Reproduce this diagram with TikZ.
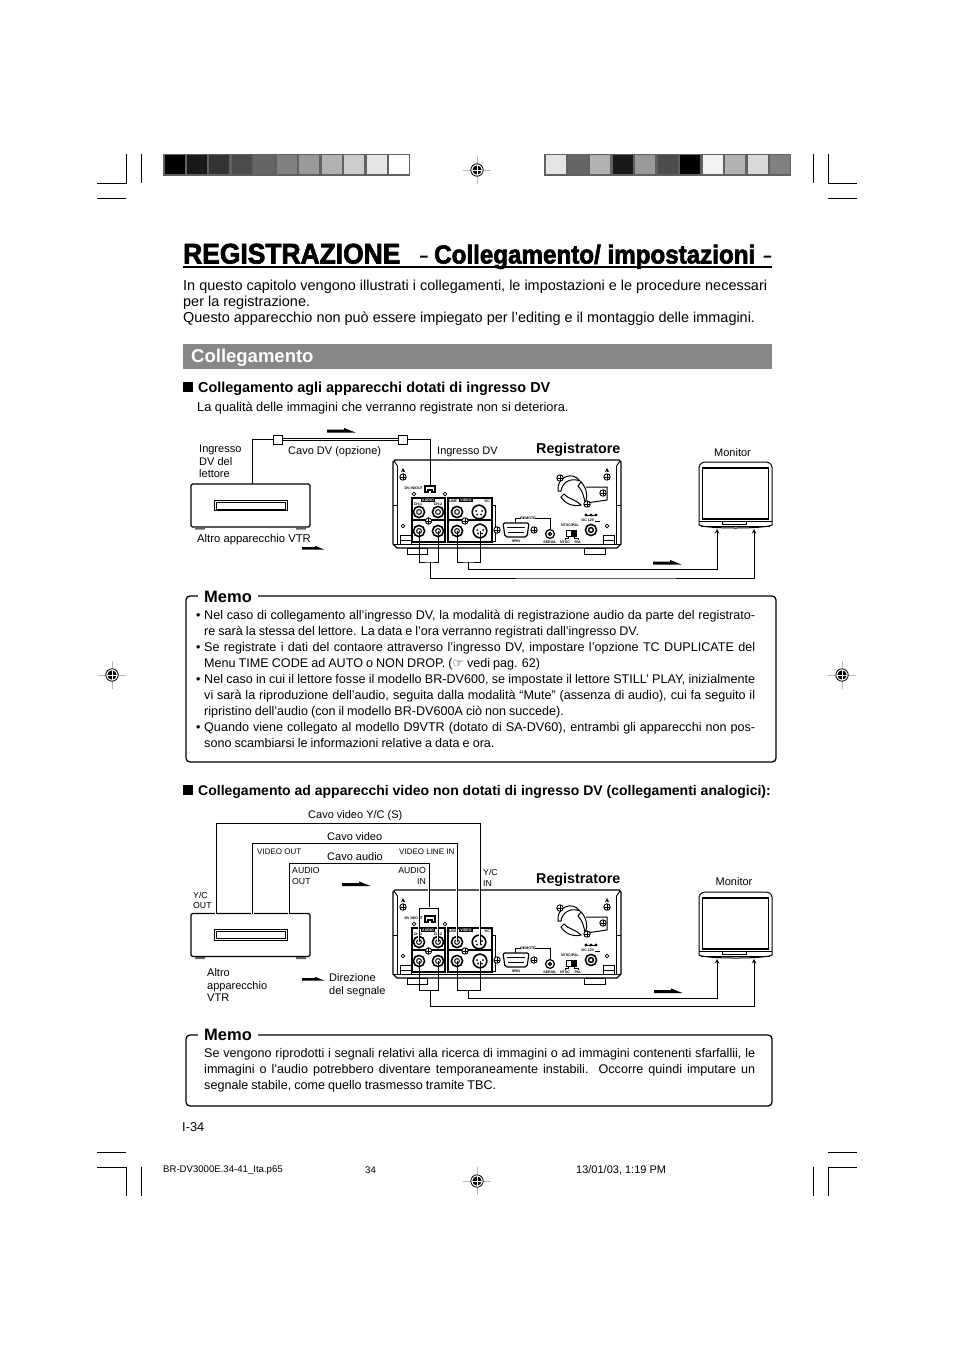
\documentclass[tikz,border=0pt]{standalone}
\usepackage{fontspec}
\setmainfont{Liberation Sans}
\newfontfamily\symfont{DejaVu Sans}
\newfontfamily\heavyfont{Liberation Sans}[UprightFont={* Bold},FakeBold=2.4,FakeStretch=0.93]
\usetikzlibrary{positioning,calc,arrows.meta}
\definecolor{cbar}{gray}{0.53}
\definecolor{cmark}{gray}{0.72}
\definecolor{cframe}{gray}{0.38}
\newcommand{\fsize}[1]{\fontsize{#1}{#1}\selectfont}
\newcommand{\jack}[2]{\draw[line width=1.6pt,fill=white] (#1,#2) circle (5.6); \draw[line width=1pt] (#1,#2) circle (2.4);}
\newcommand{\svideo}[2]{\draw[line width=1.6pt,fill=white] (#1,#2) circle (6.8); \fill (#1-3,#2-1) circle (1) (#1+3,#2-1) circle (1) (#1-2,#2+2.5) circle (1) (#1+2,#2+2.5) circle (1);}
\newcommand{\screw}[2]{\draw[line width=.9pt,fill=white] (#1,#2) circle (3.2); \draw[line width=.9pt] (#1-3.2,#2) -- (#1+3.2,#2) (#1,#2-3.2) -- (#1,#2+3.2);}
\newcommand{\bull}{\leavevmode\llap{\makebox[8pt][l]{•}}}
\tikzset{
  lbl/.style={inner sep=0pt,anchor=west,align=left,font=\fsize{11}},
  tiny/.style={inner sep=0pt,font=\fsize{3.6}\bfseries},
  cable/.style={line width=1pt},
  halo/.style={preaction={draw=white,line width=2.6pt}},
  plug/.style={draw,line width=1pt,fill=white,minimum size=9pt,inner sep=0pt},
  vtrbox/.style={draw,line width=1.2pt,rounded corners=1.5pt,minimum width=119pt,minimum height=43pt,inner sep=0pt},
  slotbox/.style={draw,line width=1pt,minimum width=73pt,minimum height=10.5pt,inner sep=0pt,
    path picture={\draw[line width=.7pt] ([shift={(2,1.8)}]path picture bounding box.north west) rectangle ([shift={(-2,-1.8)}]path picture bounding box.south east);}},
  memobox/.style={draw,line width=1.3pt,rounded corners=4pt,inner sep=0pt},
  memotag/.style={fill=white,inner xsep=6pt,inner ysep=0pt,anchor=west,font=\fsize{16.5}\bfseries},
  memotext/.style={inner sep=0pt,anchor=north west,text width=551pt,align=justify},
  heading/.style={inner sep=0pt,anchor=west,font=\fsize{14}\bfseries},
  sigarrow/.pic={\fill (0,0) -- (17,0) -- (17,-1.6) -- (28.5,3) -- (0,3) -- cycle;},
  sigsmall/.pic={\fill (0,0) -- (13,0) -- (13,-1.2) -- (22.5,2.6) -- (0,2.6) -- cycle;},
  regmark/.pic={
    \draw[cmark,line width=.7pt] (-14,0) -- (14,0) (0,-14) -- (0,14);
    \draw[line width=.8pt,fill=white] (0,0) circle (6.2);
    \fill (0,0) circle (4.6);
    \draw[white,line width=.7pt] (-4.6,0) -- (4.6,0) (0,-4.6) -- (0,4.6);
  },
  monitor/.pic={
    \draw[line width=1pt,fill=white] (699,467) .. controls (700,463) and (703,462) .. (707,462) -- (764,462)
      .. controls (769,462) and (771,463) .. (772,467) -- (772,525) .. controls (766,529) and (705,529) .. (699,525) -- cycle;
    \draw[line width=1.8pt] (702.5,468) rectangle (768.5,519);
    \draw[line width=.7pt] (699,521) -- (772,521) (701,526) -- (770,526);
    \draw[line width=.7pt] (722,521) -- (722,524) -- (746,524) -- (746,521);
    \coordinate (-inl) at (717,529);
    \coordinate (-inr) at (754,529);
  },
  recorder/.pic={
    % body and feet
    \draw[line width=1pt,fill=white] (407,548) rectangle (427,554) (584,548) rectangle (605,554);
    \draw[line width=1.3pt,fill=white] (395,460) -- (619,460) -- (621,462) -- (621,544) -- (617,548) -- (397,548) -- (393,544) -- (393,462) -- cycle;
    \draw[line width=.9pt] (394,461) -- (397.5,466) -- (397.5,544.5) (620,461) -- (616.5,466) -- (616.5,544.5);
    \draw[line width=1.8pt] (394,544.5) -- (620,544.5);
    \draw[line width=.7pt] (393,505) -- (397,505) (617,505) -- (621,505);
    % side screws
    \draw[line width=.9pt,<-,>=stealth] (403,468) -- (403,472);
    \draw[line width=.9pt,<-,>=stealth] (607,468) -- (607,472);
    \screw{403}{477} \screw{607}{477}
    \draw[line width=.7pt] (403,526) circle (1.8) (607,526) circle (1.8);
    \draw[line width=.7pt] (400,535) rectangle (411,540) (400,540) rectangle (411,544.5);
    \draw[line width=.7pt] (603,535) rectangle (614,540) (603,540) rectangle (614,544.5);
    % fan
    \draw[line width=1pt] (558,491) .. controls (556,478) and (572,470) .. (580,481) .. controls (570,477) and (562,483) .. (561,491) -- cycle;
    \draw[line width=1pt] (561,497) .. controls (565,504) and (574,507) .. (581,505) .. controls (577,500) and (568,499) .. (564,494) -- cycle;
    \draw[line width=1pt] (581,482) .. controls (587,488) and (588,497) .. (585,503) .. controls (584,496) and (582,490) .. (578,486) -- cycle;
    \draw[line width=1pt] (586,487) -- (607,487) -- (607,500) -- (586,503);
    \screw{560}{478} \screw{587}{504} \screw{603}{493}
    % DV socket
    \node[tiny,anchor=east] (dvlbl) at (423,488.5) {DV IN/OUT};
    \draw[line width=1.3pt,fill=white] (425,492) -- (425,486) -- (435,486) -- (435,492) -- (432,492) -- (432,490) -- (428,490) -- (428,492) -- cycle;
    \coordinate (-dv) at (430,486);
    \draw[line width=.7pt] (414,494) circle (1.8) (445,494) circle (1.8);
    % jack panels
    \draw[line width=1.2pt] (412,498) rectangle (445,542) (412,520) -- (445,520);
    \draw[line width=1.2pt] (448,498) rectangle (492,542) (448,520) -- (492,520);
    \draw[line width=1pt] (492,505) -- (495,505) -- (495,541) -- (492,541);
    \node[tiny,fill=black,text=white,inner xsep=1pt,inner ysep=.3pt] (audlbl) at (428,500) {AUDIO};
    \node[tiny,fill=black,text=white,inner xsep=1pt,inner ysep=.3pt] (vidlbl) at (466,500) {VIDEO};
    \node[tiny] (chalbl) at (418,504) {CH-1};
    \node[tiny] (chblbl) at (438,504) {CH-2};
    \node[tiny] (linelbl) at (453,501) {LINE};
    \node[tiny] (yclbl) at (487,501) {Y/C};
    \jack{419}{512} \jack{438}{512} \jack{457}{512}
    \jack{419}{531} \jack{438}{531} \jack{457}{531}
    \svideo{479}{512} \svideo{480}{531}
    \screw{428.5}{521} \screw{465}{521}
    \coordinate (-la) at (419,512); \coordinate (-ra) at (438,512); \coordinate (-va) at (457,512); \coordinate (-sa) at (480,514);
    \coordinate (-lb) at (419,531); \coordinate (-rb) at (438,531); \coordinate (-vb) at (457,531); \coordinate (-sb) at (480,531);
    % remote connectors
    \node[tiny] (rmlbl) at (528,518) {REMOTE};
    \draw[line width=.6pt] (515,523) -- (515,518) -- (521,518) (535,518) -- (550,518) -- (550,529);
    \draw[line width=1.2pt,fill=white,rounded corners=2pt] (503,523) -- (529,523) -- (527,537) -- (505,537) -- cycle;
    \draw[line width=.7pt] (507,527) -- (525,527) (508,532) -- (524,532);
    \screw{497}{530} \screw{534}{530}
    \node[tiny] (pinlbl) at (516,541) {9PIN};
    \draw[line width=1.2pt,fill=white] (550,534) circle (4.4) (550,534) circle (1.6);
    \node[tiny] (serlbl) at (550,542.5) {SERIAL};
    % system switch
    \node[tiny] (syslbl) at (570,525) {NTSC/PAL};
    \draw[line width=.9pt] (566,530) rectangle (576,536);
    \fill (571,530) rectangle (576,536);
    \draw[line width=.5pt] (568,536) -- (568,538.5) -- (565,538.5) -- (565,540) (574,536) -- (574,538.5) -- (578,538.5) -- (578,540);
    \node[tiny] (ntsclbl) at (565,542.5) {NTSC};
    \node[tiny] (pallbl) at (578,542.5) {PAL};
    % power input
    \fill (586,515) circle (1.7) (591,515) circle (1.7) (596,515) circle (1.7);
    \draw[line width=.5pt] (586,515) -- (596,515);
    \node[tiny] (dclbl) at (591,520.5) {DC 12V \rule{5pt}{.7pt}};
    \draw[line width=1.5pt,fill=white] (591,530) circle (5.6) (591,530) circle (2.4);
  }
}
\begin{document}
\begin{tikzpicture}[x=1pt,y=-1pt,>=stealth]
    \useasboundingbox[fill=white] (0,0) rectangle (954,1351);
    % crop marks
    \draw[line width=.7pt] (97,183) -- (126,183) -- (126,154) (97,198) -- (126,198) (141.5,154) -- (141.5,183);
    \draw[line width=.7pt] (857,183) -- (828,183) -- (828,154) (857,198) -- (828,198) (813.5,154) -- (813.5,183);
    \draw[line width=.7pt] (97,1152.5) -- (126,1152.5) (97,1167) -- (126,1167) -- (126,1196) (141.5,1167) -- (141.5,1196);
    \draw[line width=.7pt] (857,1152.5) -- (828,1152.5) (857,1167) -- (828,1167) -- (828,1196) (813.5,1167) -- (813.5,1196);
    \pic at (477,170) {regmark};
    \pic at (477,1181) {regmark};
    \pic at (112,675) {regmark};
    \pic at (842,675) {regmark};
    % grey step bars
    \fill[cframe] (163,154) rectangle (410,176);
    \foreach \g [count=\i from 0] in {100,90,80,70,60,50,40,30,20,10,0}
      \fill[black!\g] (164.5+22.45*\i,155.5) rectangle (184.5+22.45*\i,174.5);
    \fill[cframe] (544,154) rectangle (791,176);
    \foreach \g [count=\i from 0] in {10,60,30,90,40,70,100,5,30,15,50}
      \fill[black!\g] (545.5+22.45*\i,155.5) rectangle (565.5+22.45*\i,174.5);
    % title
    \node[inner sep=0pt,anchor=base west,font=\fsize{28.4}\heavyfont] (titlea) at (183,263.5) {REGISTRAZIONE};
    \node[inner sep=0pt,anchor=base west,font=\fsize{26}\heavyfont] (titleb) at (434,263.5) {Collegamento/ impostazioni};
    \draw[line width=2pt] (183,267) -- (772,267);
    \fill (420,255.5) rectangle (427.5,257.5) (763.5,255.5) rectangle (771,257.5);
    \node[inner sep=0pt,anchor=north west,align=left,font=\fontsize{14.45}{16}\selectfont] (intro) at (183,279.5)
      {In questo capitolo vengono illustrati i collegamenti, le impostazioni e le procedure necessari\\
       per la registrazione.\\
       Questo apparecchio non può essere impiegato per l’editing e il montaggio delle immagini.};
    \fill[cbar] (183,344) rectangle (772,369);
    \node[inner sep=0pt,anchor=west,text=white,font=\fsize{18.5}\bfseries] (secbar) at (191,358) {Collegamento};
    % first section
    \fill (183,381.5) rectangle (193,392);
    \node[heading,font=\fsize{14.4}\bfseries] (heada) at (198,388.5) {Collegamento agli apparecchi dotati di ingresso DV};
    \node[lbl,font=\fsize{12.8}] (subhead) at (197,408) {La qualità delle immagini che verranno registrate non si deteriora.};
    \node[vtrbox] (vtrA) at (250.5,505.5) {};
    \node[slotbox] (slotA) at (250.5,505.5) {};
    \fill[cframe] (195,527.5) rectangle (205,529.5) (296,527.5) rectangle (306,529.5);
    \pic (recA) at (0,0) {recorder};
    \pic (monA) at (0,0) {monitor};
    \node[plug] (plugL) at (278,439.5) {};
    \node[plug] (plugR) at (403,439.5) {};
    \coordinate (outA) at (252,484);
    \draw[cable] (outA) |- (plugL);
    \draw[cable,double,double distance=.9pt] (plugL) -- (plugR);
    \draw[cable] (plugR) -| (recA-dv);
    \coordinate (brLA) at (430,562);
    \coordinate (brVA) at (468,562);
    \coordinate (lowLA) at (600,578);
    \coordinate (lowVA) at (600,569.5);
    \draw[cable] (recA-lb) |- (brLA) -| (recA-rb);
    \draw[cable] (recA-vb) |- (brVA) -| (recA-sb);
    \draw[cable,->] (brLA) |- (lowLA) -| (monA-inr);
    \draw[cable,->] (brVA) |- (lowVA) -| (monA-inl);
    \pic at (327,429.5) {sigarrow};
    \pic at (653,561.5) {sigarrow};
    \pic at (302,547) {sigsmall};
    \node[lbl,font=\fontsize{11}{12.5}\selectfont] (inplayer) at (199,461.3) {Ingresso\\DV del\\lettore};
    \node[lbl] (cavodv) at (288,452) {Cavo DV (opzione)};
    \node[lbl] (indv) at (437,452) {Ingresso DV};
    \node[lbl,font=\fsize{14.3}\bfseries] (recAlbl) at (536,449.5) {Registratore};
    \node[lbl,anchor=center] (monAlbl) at (732.5,453) {Monitor};
    \node[lbl,font=\fsize{11.3}] (vtrAlbl) at (197,539.5) {Altro apparecchio VTR};
    % first memo
    \node[memobox,minimum width=590pt,minimum height=166pt] (memoA) at (481,679) {};
    \node[memotag] (memoAtag) at (198,596.5) {Memo};
    \node[memotext,font=\fontsize{12.6}{16}\selectfont] (memoAtxt) at (204,610.5) {%
      \spaceskip=.24em plus .3em minus .06em
      \bull Nel caso di collegamento all’ingresso DV, la modalità di registrazione audio da parte del registrato-\linebreak
      re sarà la stessa del lettore. La data e l’ora verranno registrati dall’ingresso DV.\par
      \bull Se registrate i dati del contaore attraverso l’ingresso DV, impostare l’opzione TC DUPLICATE del\linebreak
      Menu TIME CODE ad AUTO o NON DROP. ({\symfont ☞} vedi pag. 62)\par
      \bull Nel caso in cui il lettore fosse il modello BR-DV600, se impostate il lettore STILL’ PLAY, inizialmente\linebreak
      vi sarà la riproduzione dell’audio, seguita dalla modalità “Mute” (assenza di audio), cui fa seguito il\linebreak
      ripristino dell’audio (con il modello BR-DV600A ciò non succede).\par
      \bull Quando viene collegato al modello D9VTR (dotato di SA-DV60), entrambi gli apparecchi non pos-\linebreak
      sono scambiarsi le informazioni relative a data e ora.};
    % second section
    \fill (183,784.5) rectangle (193,795);
    \node[heading] (headb) at (198,791.5) {Collegamento ad apparecchi video non dotati di ingresso DV (collegamenti analogici):};
    \node[vtrbox] (vtrB) at (250.5,935) {};
    \node[slotbox] (slotB) at (250.5,935) {};
    \fill[cframe] (195,957) rectangle (205,959) (296,957) rectangle (306,959);
    \pic (recB) at (0,430) {recorder};
    \pic (monB) at (0,430) {monitor};
    \coordinate (outY) at (216,913.5);
    \coordinate (outV) at (252.5,913.5);
    \coordinate (outL) at (289,913.5);
    \coordinate (topY) at (350,823.5);
    \coordinate (topV) at (350,843.5);
    \coordinate (topL) at (350,863.5);
    \coordinate (brUp) at (429,908);
    \coordinate (brLB) at (430,990.5);
    \coordinate (brVB) at (468,990.5);
    \coordinate (lowLB) at (600,1006);
    \coordinate (lowVB) at (600,998);
    \draw[cable,halo] (outY) |- (topY) -| (recB-sa);
    \draw[cable,halo] (outV) |- (topV) -| (recB-va);
    \draw[cable,halo] (outL) |- (topL) -| (brUp);
    \draw[cable,halo] (recB-la) |- (brUp) -| (recB-ra);
    \draw[cable] (recB-lb) |- (brLB) -| (recB-rb);
    \draw[cable] (recB-vb) |- (brVB) -| (recB-sb);
    \draw[cable,->] (brLB) |- (lowLB) -| (monB-inr);
    \draw[cable,->] (brVB) |- (lowVB) -| (monB-inl);
    \pic at (342,883) {sigarrow};
    \pic at (654,990) {sigarrow};
    \pic at (302,978) {sigsmall};
    \node[lbl] (cavoyc) at (308,816) {Cavo video Y/C (S)};
    \node[lbl] (cavovid) at (327,837) {Cavo video};
    \node[lbl] (cavoaud) at (327,857) {Cavo audio};
    \node[lbl,font=\fsize{8}] (vidout) at (257,852) {VIDEO OUT};
    \node[lbl,font=\fsize{8}] (vidin) at (399,852) {VIDEO LINE IN};
    \node[lbl,font=\fontsize{8.7}{10.5}\selectfont] (audout) at (292,876) {AUDIO\\OUT};
    \node[lbl,anchor=east,align=right,font=\fontsize{8.7}{10.5}\selectfont] (audin) at (426,876) {AUDIO\\IN};
    \node[lbl,font=\fontsize{8.7}{10.5}\selectfont] (ycin) at (483,878) {Y/C\\IN};
    \node[lbl,font=\fontsize{8.7}{10.5}\selectfont] (ycout) at (193,900.5) {Y/C\\OUT};
    \node[lbl,font=\fsize{14.3}\bfseries] (recBlbl) at (536,879.5) {Registratore};
    \node[lbl,anchor=center] (monBlbl) at (734,882) {Monitor};
    \node[lbl,font=\fontsize{11}{12.5}\selectfont] (vtrBlbl) at (207,985.5) {Altro\\apparecchio\\VTR};
    \node[lbl,font=\fontsize{11}{12.8}\selectfont] (dirlbl) at (329,985.5) {Direzione\\del segnale};
    % second memo
    \node[memobox,minimum width=586pt,minimum height=71pt] (memoB) at (479,1070.5) {};
    \node[memotag] (memoBtag) at (198,1034.5) {Memo};
    \node[memotext,font=\fontsize{12.6}{16.2}\selectfont] (memoBtxt) at (204,1048) {%
      \spaceskip=.24em plus .3em minus .06em
      Se vengono riprodotti i segnali relativi alla ricerca di immagini o ad immagini contenenti sfarfallii, le\linebreak
      immagini o l’audio potrebbero diventare temporaneamente instabili. Occorre quindi imputare un\linebreak
      segnale stabile, come quello trasmesso tramite TBC.};
    % page footer
    \node[lbl,font=\fsize{12.8}] (pageno) at (182,1127) {I-34};
    \node[lbl,font=\fsize{9.6}] (footfile) at (163,1170) {BR-DV3000E.34-41\_Ita.p65};
    \node[lbl,font=\fsize{9.6}] (footpage) at (365,1170) {34};
    \node[lbl,font=\fsize{11}] (footdate) at (576,1170) {13/01/03, 1:19 PM};
\end{tikzpicture}
\end{document}
